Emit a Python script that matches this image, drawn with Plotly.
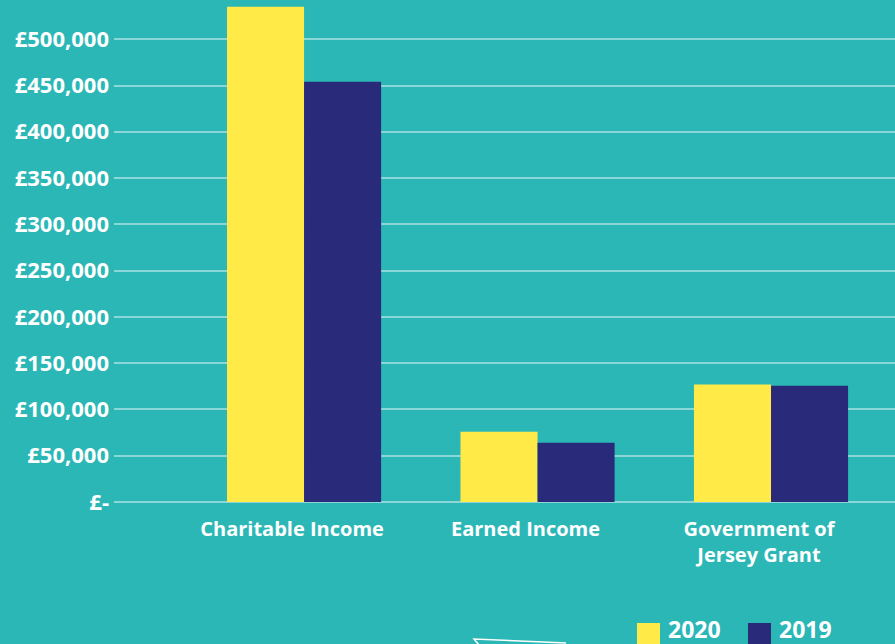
import plotly.graph_objects as go

categories = ["Charitable Income", "Earned Income", "Government of<br>Jersey Grant"]
series_names = ["2020", "2019"]
values_2020 = [535000, 76000, 127000]
values_2019 = [454000, 64000, 125500]
tick_values = [0, 50000, 100000, 150000, 200000, 250000, 300000, 350000, 400000, 450000, 500000]
tick_labels = ["£-", "£50,000", "£100,000", "£150,000", "£200,000", "£250,000",
               "£300,000", "£350,000", "£400,000", "£450,000", "£500,000"]

BG = "#2cb7b7"
YELLOW = "#ffea47"
NAVY = "#2a2a7a"
GRID = "rgba(255,255,255,0.45)"
FONT = "Open Sans"

W, H = 895, 644
L, B = 114, 142

fig = go.Figure()
fig.add_trace(go.Bar(x=categories, y=values_2020, name=series_names[0],
                     marker=dict(color=YELLOW, line=dict(width=0)), showlegend=False))
fig.add_trace(go.Bar(x=categories, y=values_2019, name=series_names[1],
                     marker=dict(color=NAVY, line=dict(width=0)), showlegend=False))

def xp(px):
    return (px - L) / (W - L)

def yp(py):
    return (H - B - py) / (H - B)

# custom legend (large square swatches)
shapes = []
annotations = []
for i, (name, col) in enumerate(zip(series_names, [YELLOW, NAVY])):
    x0 = 637 + i * 111
    shapes.append(dict(type="rect", xref="paper", yref="paper",
                       x0=xp(x0), x1=xp(x0 + 23), y0=yp(623), y1=yp(650),
                       fillcolor=col, line=dict(width=0), layer="above"))
    annotations.append(dict(xref="paper", yref="paper", x=xp(x0 + 29), y=yp(629),
                            xanchor="left", yanchor="middle", text=name, showarrow=False,
                            font=dict(family=FONT, size=23, color="white", weight=700)))

# decorative white stroke at bottom
shapes.append(dict(type="path", xref="paper", yref="paper",
                   path=f"M {xp(566)},{yp(643)} L {xp(474)},{yp(639)} L {xp(479)},{yp(645)}",
                   line=dict(color="white", width=1.5)))

fig.update_layout(
    width=W, height=H,
    margin=dict(l=L, r=0, t=0, b=B, pad=0),
    paper_bgcolor=BG, plot_bgcolor=BG,
    barmode="group", bargap=0.34, bargroupgap=0,
    font=dict(family=FONT, color="white", weight=700),
    shapes=shapes, annotations=annotations,
    xaxis=dict(range=[-0.814, 2.531], showgrid=False, zeroline=False, showline=False,
               ticks="", ticklabelstandoff=13, ticklabelshift=-12,
               tickfont=dict(family=FONT, size=20, color="white", weight=700),
               fixedrange=True),
    yaxis=dict(range=[0, 542400], tickvals=tick_values, ticktext=tick_labels,
               showgrid=True, gridcolor=GRID, gridwidth=2,
               zeroline=True, zerolinecolor=GRID, zerolinewidth=2,
               showline=False, ticks="", ticklabelstandoff=4,
               tickfont=dict(family=FONT, size=22, color="white", weight=700),
               fixedrange=True),
)

fig.write_html("out.html", config={"displayModeBar": False},
               post_script="document.body.style.margin='0';document.body.style.padding='0';"
                           "document.documentElement.style.overflow='hidden';")
